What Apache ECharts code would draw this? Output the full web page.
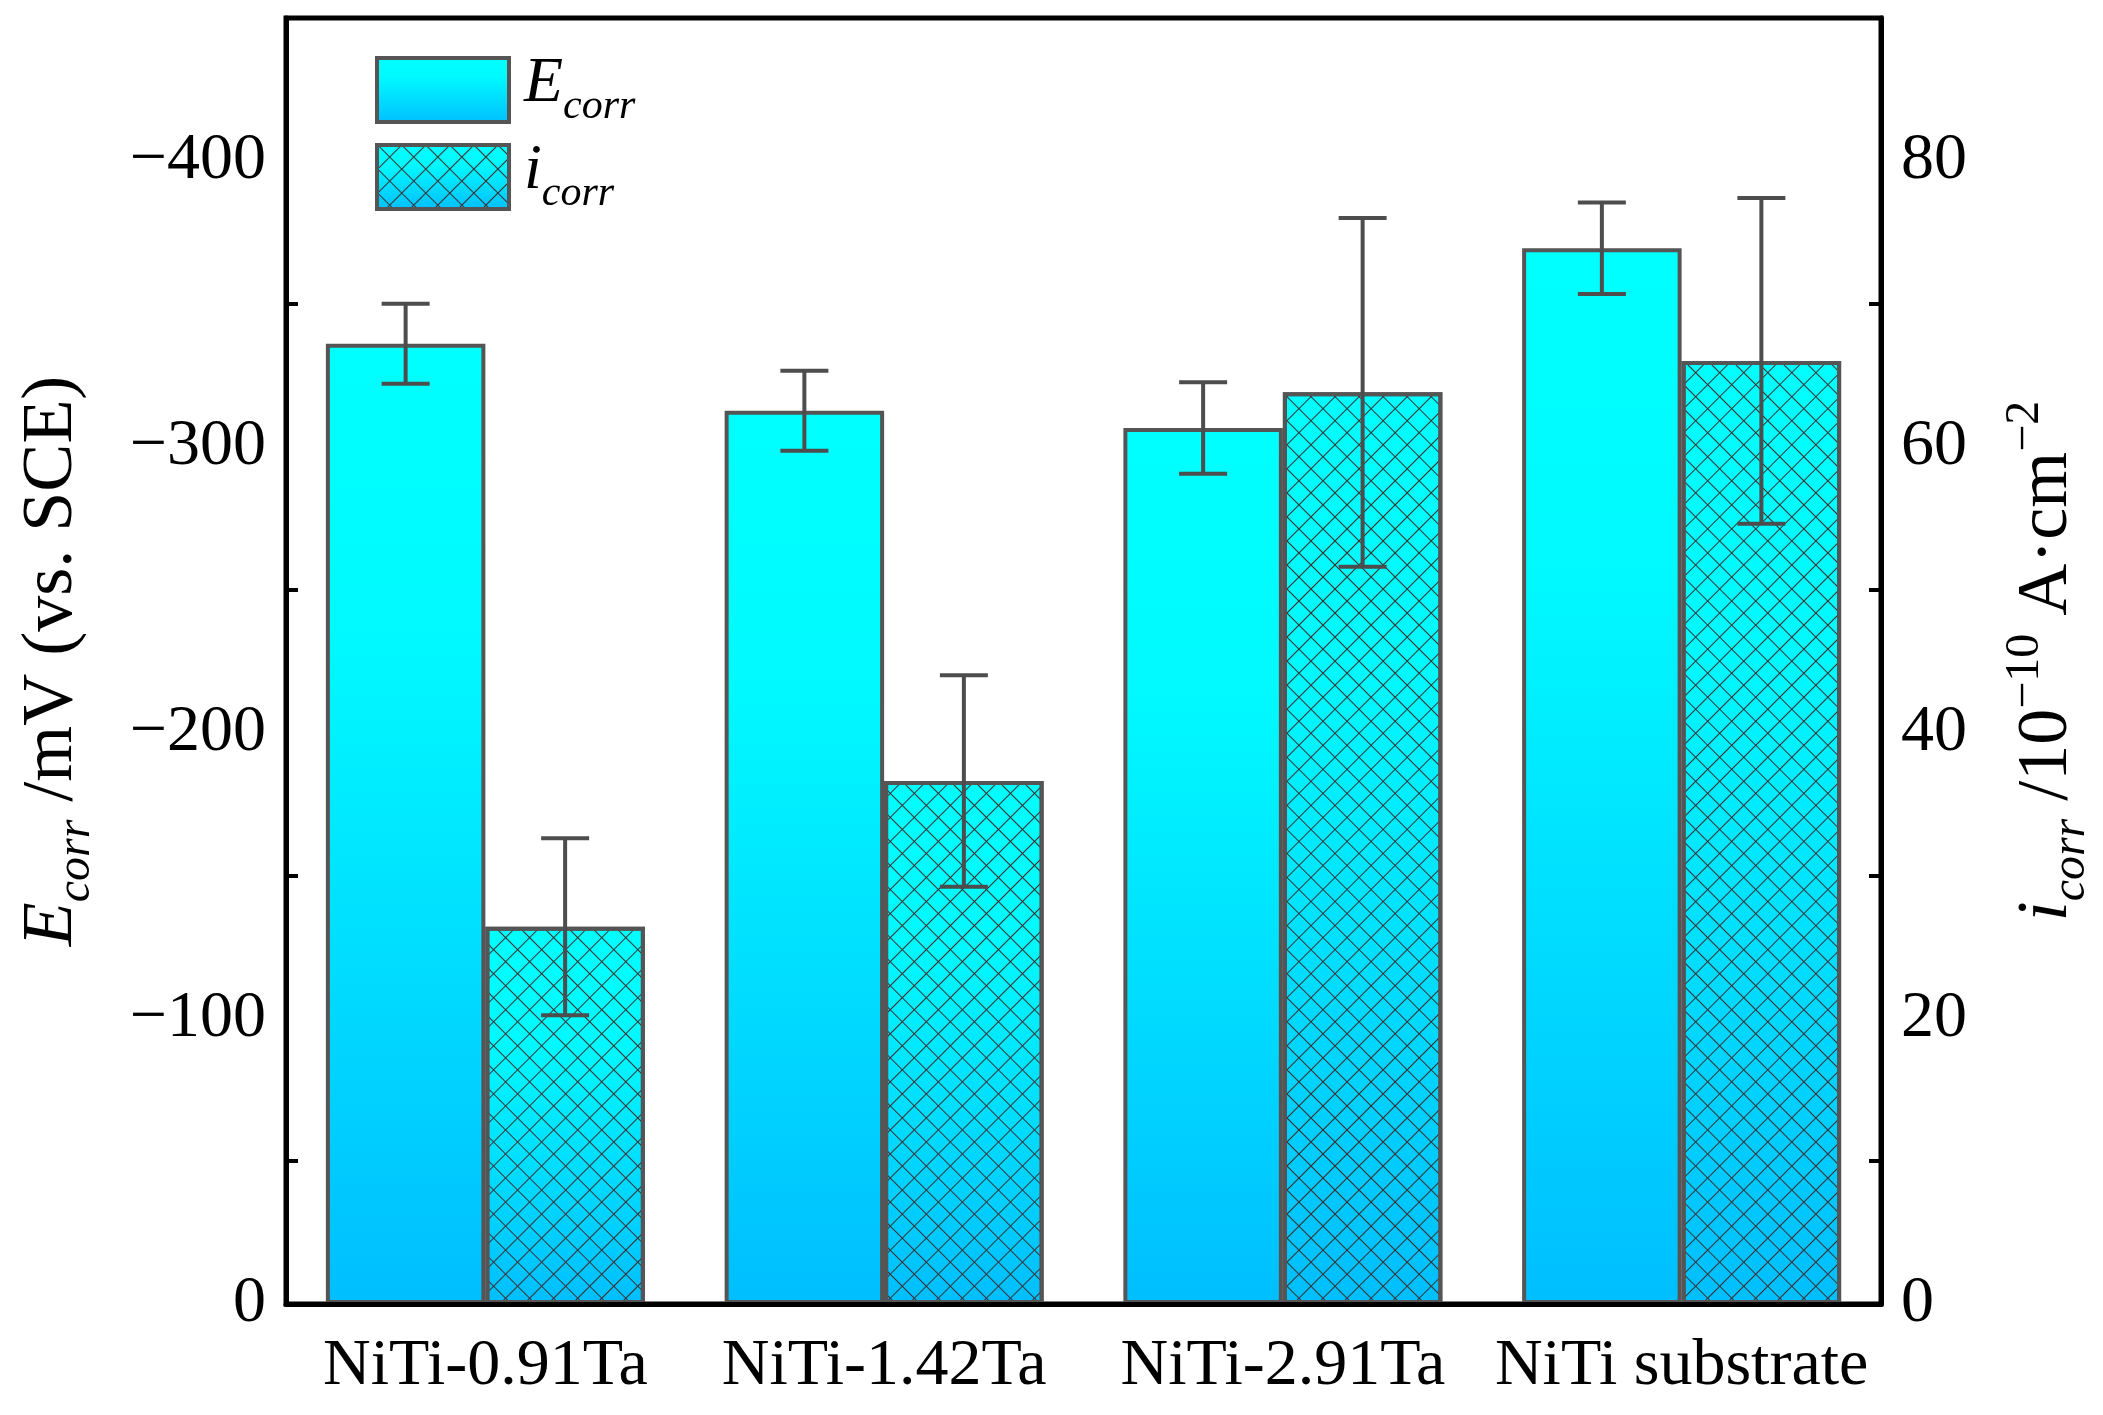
<!DOCTYPE html>
<html><head><meta charset="utf-8">
<script src="https://cdn.jsdelivr.net/npm/echarts@6/dist/echarts.min.js"></script>
<style>html,body{margin:0;padding:0;background:#fff}#c{width:2103px;height:1415px}</style>
</head><body><div id="c"></div>
<script>
const categories = ['NiTi-0.91Ta', 'NiTi-1.42Ta', 'NiTi-2.91Ta', 'NiTi substrate'];
const Ecorr = [-336, -312.6, -306.5, -369.4];      // mV vs SCE
const EcorrErr = [14, 14, 16, 16];
const icorr = [26.4, 36.6, 63.8, 66.0];            // 10^-10 A·cm^-2
const icorrErr = [6.2, 7.4, 12.2, 11.4];

const FONT = 'Liberation Serif';
const chart = echarts.init(document.getElementById('c'), null, {renderer: 'canvas'});

const grad = () => new echarts.graphic.LinearGradient(0, 0, 0, 1, [
  {offset: 0, color: '#00FFFF'},
  {offset: 0.3, color: '#00FAFF'},
  {offset: 1, color: '#00BEFF'}
]);
const BORDER = '#555555';
const ERRC = '#4d4d4d';
const HP = 17; // hatch period (px, perpendicular to lines)
const hatchRows = [[HP, 0]];
for (let k = 1; k < HP; k++) hatchRows.push([1, HP - 1]);
const hatch = {
  symbol: 'rect',
  symbolSize: 1,
  color: '#3e2e2e',
  backgroundColor: null,
  dashArrayX: hatchRows,
  dashArrayY: [1, 0],
  rotation: Math.PI / 4
};

function errRender(offsetFrac) {
  return function (params, api) {
    const i = api.value(0), v = api.value(1), e = api.value(2);
    const band = api.size([1, 0])[0];
    const c = api.coord([i, v]);
    const x = c[0] + offsetFrac * band;
    const y1 = api.coord([i, v + e])[1];
    const y2 = api.coord([i, v - e])[1];
    const hw = 24;
    const st = {stroke: ERRC, lineWidth: 4, lineCap: 'butt'};
    return {type: 'group', children: [
      {type: 'line', shape: {x1: x, y1: y1, x2: x, y2: y2}, style: st},
      {type: 'line', shape: {x1: x - hw, y1: y1, x2: x + hw, y2: y1}, style: st},
      {type: 'line', shape: {x1: x - hw, y1: y2, x2: x + hw, y2: y2}, style: st}
    ]};
  };
}

const tickLabel = {fontFamily: FONT, fontSize: 66, color: '#000'};
const legendRich = {
  it: {fontFamily: FONT, fontStyle: 'italic', fontSize: 64, color: '#000', verticalAlign: 'top'},
  sub: {fontFamily: FONT, fontStyle: 'italic', fontSize: 42, color: '#000', verticalAlign: 'top', padding: [34, 0, 0, 0]}
};
const legendBase = {
  orient: 'vertical', icon: 'rect', itemWidth: 132, itemHeight: 64,
  selectedMode: false,
  itemStyle: {borderColor: BORDER, borderWidth: 4},
  textStyle: {rich: legendRich, padding: [0, 0, 0, 10]},
  formatter: n => n === 'Ecorr' ? '{it|E}{sub|corr}' : '{it|i}{sub|corr}'
};

const nameRich = {
  it: {fontFamily: FONT, fontStyle: 'italic', fontSize: 72, color: '#000', verticalAlign: 'top', padding: [10, 0, 0, 0]},
  n: {fontFamily: FONT, fontSize: 72, color: '#000', verticalAlign: 'top', padding: [10, 0, 0, 0]},
  sub: {fontFamily: FONT, fontStyle: 'italic', fontSize: 48, color: '#000', verticalAlign: 'top', padding: [46, 0, 0, 0]},
  sup: {fontFamily: FONT, fontSize: 48, color: '#000', verticalAlign: 'top', padding: [0, 0, 0, 0]}
};

chart.setOption({
  animation: false,
  backgroundColor: '#fff',
  grid: {left: 286, right: 222, top: 18, bottom: 111, show: true, borderColor: '#000', borderWidth: 5, outerBoundsMode: 'none'},
  legend: [
    Object.assign({data: ['Ecorr'], left: 370, top: 47}, legendBase),
    Object.assign({data: ['icorr'], left: 370, top: 134}, legendBase)
  ],
  xAxis: [
    {type: 'category', data: categories, z: 10,
      axisLine: {lineStyle: {color: '#000', width: 5}},
      axisTick: {inside: true, alignWithLabel: true, length: 25, lineStyle: {color: '#000', width: 4}},
      axisLabel: Object.assign({margin: 30, interval: 0}, tickLabel)},
    {type: 'category', data: categories, position: 'bottom', z: 10,
      axisLine: {show: false},
      axisTick: {inside: true, alignWithLabel: false, length: 12, lineStyle: {color: '#000', width: 4}},
      axisLabel: {show: false}}
  ],
  yAxis: [
    {type: 'value', min: -450, max: 0, inverse: true, minInterval: 100, maxInterval: 100, position: 'left', z: 10,
      name: '{it|E}{sub|corr}{n| /mV (vs. SCE)}', nameLocation: 'middle', nameGap: 186, nameRotate: 90,
      nameTextStyle: {rich: nameRich},
      axisLine: {show: true, lineStyle: {color: '#000', width: 5}},
      axisTick: {inside: true, length: 25, lineStyle: {color: '#000', width: 4}},
      minorTick: {show: true, splitNumber: 2, length: 12, lineStyle: {color: '#000', width: 4}},
      splitLine: {show: false},
      axisLabel: Object.assign({margin: 20, formatter: v => (v % 100 !== 0) ? '' : (v === 0 ? '0' : '\u2212' + Math.abs(v))}, tickLabel)},
    {type: 'value', min: 0, max: 90, minInterval: 20, maxInterval: 20, position: 'right', z: 10,
      name: '{it|i}{sub|corr}{n| /10}{sup|\u221210}{n| A\u00B7cm}{sup|\u22122}', nameLocation: 'middle', nameGap: 120, nameRotate: 90,
      nameTextStyle: {rich: nameRich},
      axisLine: {show: true, lineStyle: {color: '#000', width: 5}},
      axisTick: {inside: true, length: 25, lineStyle: {color: '#000', width: 4}},
      minorTick: {show: true, splitNumber: 2, length: 12, lineStyle: {color: '#000', width: 4}},
      splitLine: {show: false},
      axisLabel: Object.assign({margin: 20, formatter: v => (v % 20 !== 0) ? '' : String(v)}, tickLabel)}
  ],
  series: [
    {name: 'Ecorr', type: 'bar', xAxisIndex: 0, yAxisIndex: 0, data: Ecorr,
      barGap: '0%', barCategoryGap: '20%',
      itemStyle: {color: grad(), borderColor: BORDER, borderWidth: 4}},
    {name: 'icorr', type: 'bar', xAxisIndex: 0, yAxisIndex: 1, data: icorr,
      barGap: '0%', barCategoryGap: '20%',
      itemStyle: {color: grad(), borderColor: BORDER, borderWidth: 4, decal: hatch}},
    {type: 'custom', xAxisIndex: 0, yAxisIndex: 0, z: 5,
      data: Ecorr.map((v, i) => [i, v, EcorrErr[i]]),
      encode: {x: 0, y: 1}, renderItem: errRender(-0.2)},
    {type: 'custom', xAxisIndex: 0, yAxisIndex: 1, z: 5,
      data: icorr.map((v, i) => [i, v, icorrErr[i]]),
      encode: {x: 0, y: 1}, renderItem: errRender(0.2)}
  ]
});
</script></body></html>
